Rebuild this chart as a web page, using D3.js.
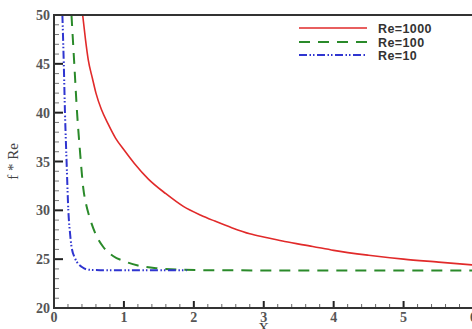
<!DOCTYPE html>
<html>
<head>
<meta charset="utf-8">
<script src="https://cdn.jsdelivr.net/npm/d3@7"></script>
<style>
  body { margin: 0; background: #fff; }
  svg { display: block; }
  .tick-label { font-family: "Liberation Serif", "DejaVu Serif", serif; font-weight: bold; font-size: 14px; fill: #555; }
  .legend text { font-family: "Liberation Sans", Arial, sans-serif; font-weight: bold; font-size: 12.5px; fill: #333; letter-spacing: 0.4px; }
</style>
</head>
<body>
<div id="chart"></div>
<script>
// apparent friction factor f*Re along X for three Reynolds numbers
var re1000 = [[0.41, 50], [0.45, 47.5], [0.49, 45.4], [0.55, 43.5], [0.6, 42.0], [0.68, 40.3], [0.77, 38.9],
  [0.88, 37.4], [1.0, 36.2], [1.15, 34.8], [1.35, 33.2], [1.6, 31.7], [1.85, 30.4], [2.1, 29.5], [2.3, 28.9],
  [2.55, 28.2], [2.8, 27.6], [3.05, 27.2], [3.3, 26.8], [3.7, 26.3], [4.0, 25.9], [4.5, 25.4], [5.0, 25.0],
  [5.5, 24.7], [6.0, 24.4]];
var re100 = [[0.25, 50], [0.29, 45], [0.33, 40], [0.37, 36.2], [0.42, 32.2], [0.46, 30.6], [0.5, 29.5],
  [0.6, 27.5], [0.7, 26.3], [0.85, 25.3], [1.0, 24.8], [1.2, 24.35], [1.5, 24.05], [1.8, 23.92],
  [2.2, 23.87], [3.0, 23.85], [6.0, 23.85]];
var re10 = [[0.12, 50], [0.14, 45], [0.157, 40], [0.18, 35], [0.205, 30], [0.23, 27.6], [0.25, 26.3],
  [0.3, 25.1], [0.35, 24.5], [0.4, 24.2], [0.49, 23.92], [0.6, 23.88], [1.0, 23.87], [1.9, 23.87]];

var seriesNames = ["Re=1000", "Re=100", "Re=10"];
var xTicks = [0, 1, 2, 3, 4, 5, 6];
var yTicks = [20, 25, 30, 35, 40, 45, 50];

var width = 472;
var height = 329;
var margin = {top: 15, right: -1.5, bottom: 21, left: 54};

var svg = d3.select("#chart").append("svg")
    .attr("width", width)
    .attr("height", height);

var x = d3.scaleLinear().domain([0, 6]).range([margin.left, width - margin.right]);
var y = d3.scaleLinear().domain([20, 50]).range([height - margin.bottom, margin.top]);

var styles = [
  {color: "#e12a2a", dash: null, width: 1.6},
  {color: "#2a8a2a", dash: "11,8", width: 2},
  {color: "#2f35d0", dash: "8,2.5,1.5,2,1.5,2.5", width: 2}
];

var plot = svg.append("g");

plot.append("clipPath").attr("id", "clip")
  .append("rect")
    .attr("x", x(0)).attr("y", y(50))
    .attr("width", x(6) - x(0)).attr("height", y(20) - y(50));

var line = d3.line()
    .curve(d3.curveMonotoneX)
    .x(function(d) { return x(d[0]); })
    .y(function(d) { return y(d[1]); });

[re1000, re100, re10].forEach(function(data, i) {
  plot.append("path")
      .datum(data)
      .attr("clip-path", "url(#clip)")
      .attr("fill", "none")
      .attr("stroke", styles[i].color)
      .attr("stroke-width", styles[i].width)
      .attr("stroke-dasharray", styles[i].dash)
      .attr("d", line);
});

// minor ticks, pointing into the plot
var xMinor = d3.range(0, 6.001, 0.2).filter(function(v) { return Math.abs(v - Math.round(v)) > 1e-6; });
var yMinor = d3.range(20, 50).filter(function(v) { return v % 5 !== 0; });

svg.selectAll(".xminor").data(xMinor).enter().append("line")
    .attr("x1", function(d) { return x(d); }).attr("x2", function(d) { return x(d); })
    .attr("y1", y(20)).attr("y2", y(20) - 4)
    .attr("stroke", "#666").attr("stroke-width", 1);

svg.selectAll(".yminor").data(yMinor).enter().append("line")
    .attr("x1", x(0)).attr("x2", x(0) + 5)
    .attr("y1", function(d) { return y(d); }).attr("y2", function(d) { return y(d); })
    .attr("stroke", "#777").attr("stroke-width", 1);

// major ticks
svg.selectAll(".xmajor").data(xTicks).enter().append("line")
    .attr("x1", function(d) { return x(d); }).attr("x2", function(d) { return x(d); })
    .attr("y1", y(20)).attr("y2", y(20) - 7)
    .attr("stroke", "#222").attr("stroke-width", 2);

svg.selectAll(".ymajor").data(yTicks).enter().append("line")
    .attr("x1", x(0)).attr("x2", x(0) + 9)
    .attr("y1", function(d) { return y(d); }).attr("y2", function(d) { return y(d); })
    .attr("stroke", "#222").attr("stroke-width", 2);

// frame
svg.append("rect")
    .attr("x", x(0)).attr("y", y(50))
    .attr("width", x(6) - x(0)).attr("height", y(20) - y(50))
    .attr("fill", "none")
    .attr("stroke", "#333")
    .attr("stroke-width", 2);

// tick labels
svg.selectAll(".xlab").data(xTicks).enter().append("text")
    .attr("class", "tick-label")
    .attr("x", function(d) { return x(d); })
    .attr("y", y(20) + 14)
    .attr("text-anchor", "middle")
    .text(function(d) { return d; });

svg.selectAll(".ylab").data(yTicks).enter().append("text")
    .attr("class", "tick-label")
    .attr("x", x(0) - 4)
    .attr("y", function(d) { return y(d) + 5; })
    .attr("text-anchor", "end")
    .text(function(d) { return d; });

// axis titles
svg.append("text")
    .attr("x", (x(0) + x(6)) / 2)
    .attr("y", height + 4)
    .attr("text-anchor", "middle")
    .style("font-family", "'Liberation Serif', serif")
    .style("font-size", "15px")
    .style("fill", "#444")
    .text("X");

svg.append("text")
    .attr("transform", "translate(18," + (y(35)) + ") rotate(-90)")
    .attr("text-anchor", "middle")
    .style("font-family", "'Liberation Serif', serif")
    .style("font-size", "15px")
    .style("fill", "#444")
    .text("f * Re");

// legend
var legend = svg.append("g").attr("class", "legend");
var legendY = [28, 42, 55];

seriesNames.forEach(function(name, i) {
  legend.append("line")
      .attr("x1", 299).attr("x2", 367)
      .attr("y1", legendY[i]).attr("y2", legendY[i])
      .attr("stroke", styles[i].color)
      .attr("stroke-width", styles[i].width)
      .attr("stroke-dasharray", styles[i].dash);
  legend.append("text")
      .attr("x", 378)
      .attr("y", legendY[i] + 4.5)
      .text(name);
});
</script>
</body>
</html>
